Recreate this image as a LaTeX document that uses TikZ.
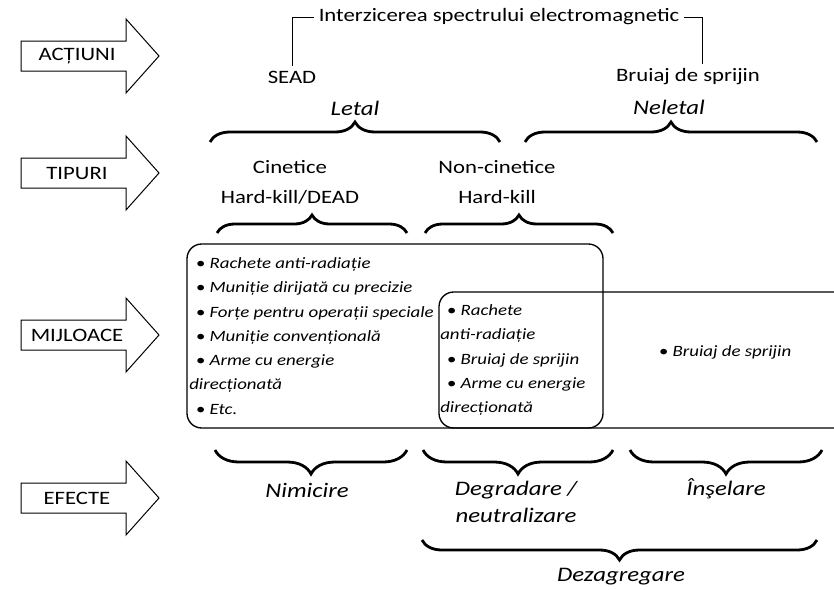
\documentclass[tikz,border=0pt]{standalone}
\usepackage{fontspec}
\setmainfont{Carlito}[FakeStretch=1.2]
\usetikzlibrary{decorations.pathreplacing}
\newcommand\bul{\hspace*{5pt}\textbullet\ }
\begin{document}
\begin{tikzpicture}[
	x=0.75pt, y=-0.75pt,
	row/.style = {font=\fontsize{14.2}{16}\selectfont},
	head/.style = {font=\fontsize{14.2}{22.5}\selectfont, align=center},
	kind/.style = {font=\fontsize{15.5}{20}\selectfont\itshape, align=center},
	means/.style = {font=\fontsize{11.8}{18.2}\selectfont\itshape, align=left, inner sep=0pt, anchor=west},
	brc/.style = {decorate, decoration={brace, amplitude=#1}, line width=2.1pt},
	brc/.default = 15pt,
	box/.style = {line width=1pt, rounded corners=11pt},
	]
	\useasboundingbox (0,0) rectangle (834,589);
	% row labels
	\foreach \y/\t in {56/ACȚIUNI, 173/TIPURI, 335/MIJLOACE, 498/EFECTE}{
		\draw[line width=0.75pt] (21,\y-15) -- (126,\y-15) -- (126,\y-37) -- (159,\y)
			-- (126,\y+37) -- (126,\y+15) -- (21,\y+15) -- cycle;
		\node[row] (row\y) at (77,\y) {\t};
	}
	% actions
	\node[row] (intz) at (499,17) {Interzicerea spectrului electromagnetic};
	\node[row] (sead) at (292,77) {SEAD};
	\node[row] (bruiaj) at (688,77) {Bruiaj de sprijin};
	\draw[line width=0.75pt] (intz.west) -| (sead.north);
	\draw[line width=0.75pt] (intz.east) -| ([xshift=11pt]bruiaj.north);
	% types
	\node[kind] (letal) at (355,108) {Letal};
	\node[kind] (neletal) at (669,107) {Neletal};
	\draw[brc] (210,142) -- (500,142);
	\draw[brc] (525,142) -- (817,142);
	\node[head] (cin) at (290,182) {Cinetice\\Hard-kill/DEAD};
	\node[head] (noncin) at (497,182) {Non-cinetice\\Hard-kill};
	\draw[brc=13.5pt] (217,233) -- (407,233);
	\draw[brc=13.5pt] (425,233) -- (613,233);
	% means
	\draw[box] (187,244) rectangle (603,428);
	\draw[box] (834,292) -- (439,292) -- (439,428) -- (834,428);
	\node[means] (kin) at (189,336) {\bul Rachete anti-radiație\\
		\bul Muniție dirijată cu precizie\\
		\bul Forțe pentru operații speciale\\
		\bul Muniție convențională\\
		\bul Arme cu energie\\
		direcționată\\
		\bul Etc.};
	\node[means] (soft) at (440,360) {\bul Rachete\\
		anti-radiație\\
		\bul Bruiaj de sprijin\\
		\bul Arme cu energie\\
		direcționată};
	\node[means] (jam) at (652,352) {\bul Bruiaj de sprijin};
	% effects
	\draw[brc=18pt] (407,450) -- (215,450);
	\draw[brc=18pt] (613,450) -- (423,450);
	\draw[brc=18pt] (822,450) -- (630,450);
	\node[kind] (nim) at (307,490) {Nimicire};
	\node[kind, font=\fontsize{15.5}{20.5}\selectfont\itshape] (degr) at (516,502) {Degradare /\\neutralizare};
	\node[kind] (insel) at (726,489) {Înşelare};
	\draw[brc=15pt] (817,540) -- (422,540);
	\node[kind] (dez) at (621,577) {Dezagregare};
\end{tikzpicture}
\end{document}
